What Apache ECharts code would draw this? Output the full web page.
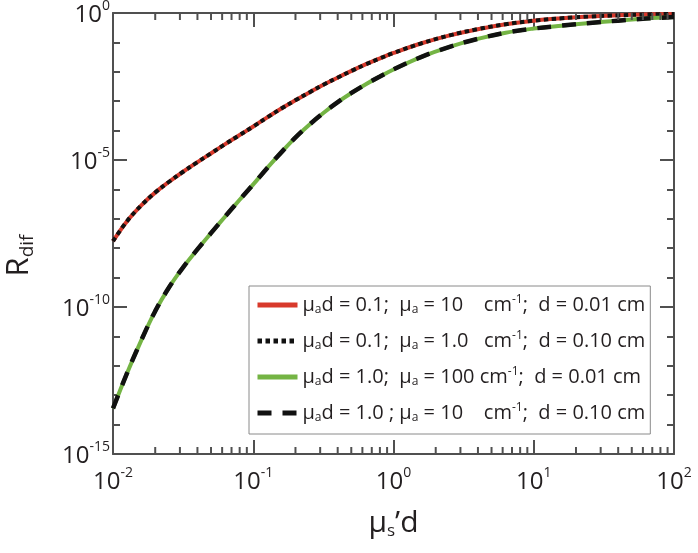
<!DOCTYPE html>
<html><head><meta charset="utf-8">
<script src="https://cdn.jsdelivr.net/npm/echarts@6/dist/echarts.min.js"></script>
<style>html,body{margin:0;padding:0;background:#fff;}#c{width:698px;height:553px;}</style>
</head><body><div id="c"></div>
<script>
// log10(mu_s' d)
const xExp = [-2,-1.9,-1.8,-1.7,-1.6,-1.5,-1.4,-1.3,-1.2,-1.1,-1.0,-0.9,-0.8,-0.7,-0.6,-0.5,-0.4,-0.3,-0.2,-0.1,0,0.2,0.4,0.6,0.8,1.0,1.2,1.4,1.6,1.8,2.0];
// log10(R_dif), mu_a d = 0.1
const redExp = [-7.76,-7.08,-6.55,-6.11,-5.74,-5.40,-5.08,-4.77,-4.46,-4.16,-3.86,-3.55,-3.25,-2.97,-2.70,-2.44,-2.20,-1.97,-1.75,-1.55,-1.36,-1.03,-0.76,-0.55,-0.38,-0.26,-0.18,-0.12,-0.08,-0.05,-0.03];
// log10(R_dif), mu_a d = 1.0
const greenExp = [-13.45,-12.25,-11.15,-10.15,-9.33,-8.65,-8.05,-7.48,-6.92,-6.37,-5.83,-5.27,-4.74,-4.24,-3.80,-3.40,-3.04,-2.72,-2.43,-2.17,-1.92,-1.49,-1.15,-0.88,-0.67,-0.53,-0.43,-0.34,-0.26,-0.19,-0.14];
const xMinorDigits = [2,3,4,5,6,7,8,9];
const legendNames = ['A','B','C','D'];
const legendTexts = {
  A: '{t|μ}{sb|a}{t|d = 0.1;  μ}{sb|a}{t| = 10    cm}{sp|-1}{t|;  d = 0.01 cm}',
  B: '{t|μ}{sb|a}{t|d = 0.1;  μ}{sb|a}{t| = 1.0   cm}{sp|-1}{t|;  d = 0.10 cm}',
  C: '{t|μ}{sb|a}{t|d = 1.0;  μ}{sb|a}{t| = 100 cm}{sp|-1}{t|;  d = 0.01 cm}',
  D: '{t|μ}{sb|a}{t|d = 1.0 ; μ}{sb|a}{t| = 10    cm}{sp|-1}{t|;  d = 0.10 cm}'
};

const FONT = 'Open Sans';
const TXT = '#231f20';
const AX = '#505050';
const RED = '#d8392b';
const GREEN = '#74b444';

const pair = (ys) => xExp.map((x, i) => [x, ys[i]]);
const minorData = [];
for (let k = -2; k < 2; k++) for (const d of xMinorDigits) minorData.push([k + Math.log10(d)]);

const labelRich = {
  b: {fontFamily: FONT, fontSize: 24, color: TXT, lineHeight: 28, verticalAlign: 'bottom'},
  s: {fontFamily: FONT, fontSize: 14, color: TXT, lineHeight: 12, verticalAlign: 'top'}
};
const fmt = v => '{b|10}{s|' + v + '}';

const chart = echarts.init(document.getElementById('c'));
const axisCommon = {
  type: 'value',
  axisLine: {show: true, onZero: false, lineStyle: {color: AX, width: 2}},
  axisTick: {show: true, inside: true, length: 14, lineStyle: {color: AX, width: 2}},
  splitLine: {show: false}
};
chart.setOption({
  animation: false,
  backgroundColor: '#fff',
  grid: {left: 113, right: 24, top: 13, bottom: 99, containLabel: false, outerBoundsMode: 'none'},
  xAxis: [
    Object.assign({}, axisCommon, {position: 'bottom', min: -2, max: 2, interval: 1,
      axisLabel: {show: true, margin: 12, formatter: fmt, rich: labelRich},
      name: '{m|μ}{sb|s}{m|\u2019d}', nameLocation: 'middle', nameGap: 44,
      nameTextStyle: {rich: {
        m: {fontFamily: FONT, fontSize: 30, color: TXT, lineHeight: 40, verticalAlign: 'bottom'},
        sb: {fontFamily: FONT, fontSize: 17, color: TXT, lineHeight: 40, height: 14, verticalAlign: 'bottom'}
      }}}),
    Object.assign({}, axisCommon, {position: 'top', min: -2, max: 2, interval: 1, axisLabel: {show: false}})
  ],
  yAxis: [
    Object.assign({}, axisCommon, {position: 'left', min: -15, max: 0, interval: 5,
      minorTick: {show: true, splitNumber: 5, length: 7, lineStyle: {color: AX, width: 2}},
      axisLabel: {show: true, margin: 3, formatter: fmt, rich: labelRich},
      name: '{m|R}{sb|dif}', nameLocation: 'middle', nameGap: 78, nameRotate: 90,
      nameTextStyle: {padding: [0, 44, 0, 0], rich: {
        m: {fontFamily: FONT, fontSize: 31, color: TXT, lineHeight: 40, verticalAlign: 'bottom'},
        sb: {fontFamily: FONT, fontSize: 19, color: TXT, lineHeight: 40, height: 14, verticalAlign: 'bottom'}
      }}}),
    Object.assign({}, axisCommon, {position: 'right', min: -15, max: 0, interval: 5,
      minorTick: {show: true, splitNumber: 5, length: 7, lineStyle: {color: AX, width: 2}},
      axisLabel: {show: false}})
  ],
  legend: {
    show: true, data: legendNames, orient: 'vertical', left: 249, top: 286,
    backgroundColor: '#fff', borderColor: '#8a8a8a', borderWidth: 1,
    padding: [8, 5, 10, 6], itemGap: 14, itemWidth: 40, itemHeight: 14,
    itemStyle: {opacity: 0},
    lineStyle: {width: 5},
    formatter: n => legendTexts[n],
    textStyle: {rich: {
      t: {fontFamily: FONT, fontSize: 20, color: TXT, lineHeight: 22, verticalAlign: 'middle'},
      sb: {fontFamily: FONT, fontSize: 12, color: TXT, lineHeight: 22, height: 13, verticalAlign: 'bottom'},
      sp: {fontFamily: FONT, fontSize: 12, color: TXT, lineHeight: 22, verticalAlign: 'top'}
    }}
  },
  series: [
    {name: 'A', type: 'line', data: pair(redExp), symbol: 'none', smooth: 0.4, z: 2,
      lineStyle: {color: RED, width: 4}, itemStyle: {color: RED}},
    {name: 'B', type: 'line', data: pair(redExp), symbol: 'none', smooth: 0.4, z: 3,
      lineStyle: {color: '#111', width: 4, type: [4.5, 3.5]}, itemStyle: {color: '#111'}},
    {name: 'C', type: 'line', data: pair(greenExp), symbol: 'none', smooth: 0.4, z: 4,
      lineStyle: {color: GREEN, width: 4}, itemStyle: {color: GREEN}},
    {name: 'D', type: 'line', data: pair(greenExp), symbol: 'none', smooth: 0.4, z: 5,
      lineStyle: {color: '#111', width: 4.5, type: [14, 11]}, itemStyle: {color: '#111'}},
    {name: 'minor', type: 'custom', data: minorData, z: 10, silent: true, clip: false,
      renderItem: (params, api) => {
        const x = api.value(0);
        const b = api.coord([x, -15]);
        const t = api.coord([x, 0]);
        return {type: 'group', children: [
          {type: 'line', shape: {x1: b[0], y1: b[1], x2: b[0], y2: b[1] - 7}, style: {stroke: AX, lineWidth: 2}},
          {type: 'line', shape: {x1: t[0], y1: t[1], x2: t[0], y2: t[1] + 7}, style: {stroke: AX, lineWidth: 2}}
        ]};
      }}
  ]
});
</script></body></html>
